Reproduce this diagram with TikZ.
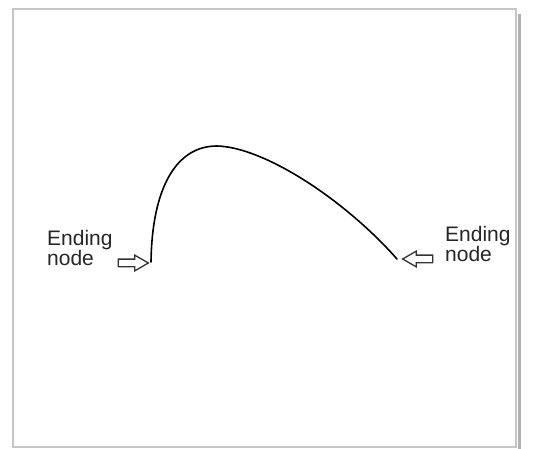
\documentclass[tikz,border=0pt]{standalone}
\usepackage{fontspec}
\setmainfont{Liberation Sans}
\usetikzlibrary{arrows.meta, positioning, shapes.arrows}

\begin{document}
\begin{tikzpicture}[
    x=1pt, y=-1pt,
    tag/.style={black!85, font=\fontsize{21}{20}\selectfont, align=left, inner sep=0pt},
    pointer/.style={single arrow, draw=black!80, line width=1.3pt, fill=white,
        minimum height=30pt, minimum width=15pt, inner sep=3.2pt,
        single arrow head extend=4pt, single arrow head indent=0pt,
        single arrow tip angle=60},
    frame/.style={draw=gray!45, line width=1.5pt}
]
\useasboundingbox (0,0) rectangle (541,449);
% frame with its shadow
\draw[gray!60, line width=3pt] (519,14) -- (519,449);
\draw[frame] (13,9) rectangle (516,447);

% the two ends of the curve
\coordinate (leftEnd) at (151,262);
\coordinate (peak) at (217,146);
\coordinate (rightEnd) at (397,259);
\draw[line width=1.6pt, line cap=round] (leftEnd) .. controls (152,190) and (175,146) .. (peak)
    .. controls (263,147) and (343,198) .. (rightEnd);

% pointers to the ends
\node[pointer] (leftArrow) at (130,263) {};
\node[pointer, shape border rotate=180] (rightArrow) at (421,259) {};
\node[tag, anchor=north west] (leftTag) at (47,230) {Ending\\node};
\node[tag, anchor=north west] (rightTag) at (445,226) {Ending\\node};
\end{tikzpicture}
\end{document}
